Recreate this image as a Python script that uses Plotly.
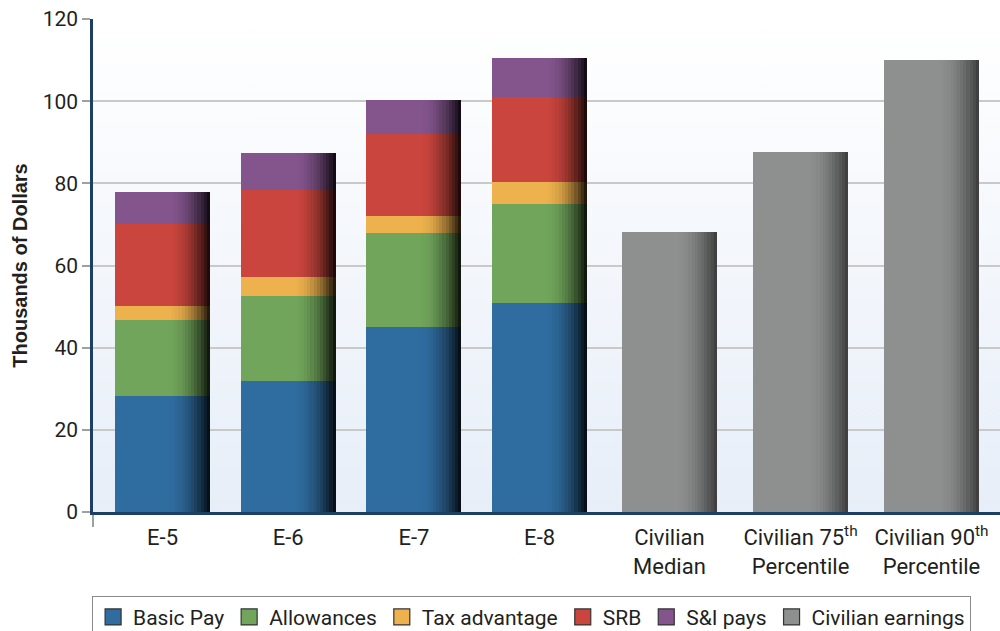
import base64
import plotly.graph_objects as go

# Categories and component values (thousands of dollars)
categories = ["E-5", "E-6", "E-7", "E-8",
              "Civilian<br>Median",
              "Civilian 75<sup>th</sup><br>Percentile",
              "Civilian 90<sup>th</sup><br>Percentile"]

basic_pay = [28.2, 31.9, 45.0, 50.9, None, None, None]
allowances = [18.5, 20.7, 22.9, 24.1, None, None, None]
tax_advantage = [3.4, 4.6, 4.2, 5.3, None, None, None]
srb = [20.0, 21.2, 19.9, 20.7, None, None, None]
si_pays = [7.8, 9.0, 8.3, 9.5, None, None, None]
civilian_earnings = [None, None, None, None, 68.2, 87.6, 110.0]

series = [
    ("Basic Pay", basic_pay, (47, 108, 159), 0.92),
    ("Allowances", allowances, (113, 165, 91), 0.92),
    ("Tax advantage", tax_advantage, (237, 177, 77), 0.92),
    ("SRB", srb, (202, 69, 61), 0.92),
    ("S&I pays", si_pays, (132, 85, 141), 0.92),
    ("Civilian earnings", civilian_earnings, (142, 144, 143), 0.6),
]

# slot positions along the x axis; the civilian group sits a little apart
x_pos = [0, 1, 2, 3, 4.033, 5.076, 6.118]
bar_width = 0.756
n_strips = 30


def shade(rgb, t, depth):
    # flat colour on the left, falling off towards the right edge
    if t <= 0.55:
        f = 1.0
    else:
        f = 1.0 - depth * ((t - 0.55) / 0.45) ** 2
    return "rgb(%d,%d,%d)" % tuple(int(round(c * f)) for c in rgb)


fig = go.Figure()

base = [0.0] * len(categories)
for name, vals, rgb, depth in series:
    ys = [v if v is not None else 0 for v in vals]
    bases = [b if v is not None else 0 for b, v in zip(base, vals)]
    for k in range(n_strips):
        t = (k + 0.5) / n_strips
        fig.add_trace(go.Bar(
            x=x_pos, y=ys, base=bases,
            offset=-bar_width / 2 + k * bar_width / n_strips,
            width=bar_width / n_strips * 1.02,
            marker=dict(color=shade(rgb, t, depth), line=dict(width=0)),
            name=name, legendgroup=name, showlegend=False,
            hoverinfo="skip",
        ))
    # legend entry for the series
    fig.add_trace(go.Scatter(
        x=[None], y=[None], mode="markers", name=name, legendgroup=name,
        marker=dict(symbol="square", size=16, color="rgb(%d,%d,%d)" % rgb,
                    line=dict(color="#333333", width=1.2)),
        showlegend=True,
    ))
    base = [b + (v or 0) for b, v in zip(base, vals)]

# vertical white-to-pale-blue wash behind the plot area
svg = ('<svg xmlns="http://www.w3.org/2000/svg" width="100" height="100" '
       'preserveAspectRatio="none"><defs><linearGradient id="g" x1="0" y1="0" '
       'x2="0" y2="1"><stop offset="0" stop-color="#ffffff"/>'
       '<stop offset="1" stop-color="#e7eef8"/></linearGradient></defs>'
       '<rect width="100" height="100" fill="url(#g)"/></svg>')
bg_src = "data:image/svg+xml;base64," + base64.b64encode(svg.encode()).decode()

fig.add_layout_image(dict(
    source=bg_src, xref="paper", yref="paper", x=0, y=1,
    sizex=1, sizey=1, xanchor="left", yanchor="top",
    sizing="stretch", layer="below",
))

text_color = "#231f20"

fig.update_layout(
    width=1000, height=631,
    margin=dict(l=93, r=0, t=19, b=119, autoexpand=False),
    barmode="overlay",
    bargap=0,
    paper_bgcolor="white",
    plot_bgcolor="rgba(0,0,0,0)",
    showlegend=True,
    legend=dict(
        orientation="h", x=-0.001, xanchor="left", y=-0.170, yanchor="top",
        bordercolor="#8a8a8a", borderwidth=1, bgcolor="white",
        font=dict(family="Roboto, Arial", size=21, color=text_color),
        itemwidth=30, traceorder="normal", tracegroupgap=0,
    ),
    xaxis=dict(
        range=[-0.553, 6.663],
        tickvals=x_pos, ticktext=categories,
        tickfont=dict(family="Roboto, Arial", size=22, color=text_color),
        ticklabelstandoff=4,
        showgrid=False, zeroline=False,
        showline=True, linecolor="#1d3f66", linewidth=2.5,
        ticks="",
        minor=dict(tickvals=[-0.553], ticks="outside", ticklen=12,
                   tickcolor="#a0a0a0", tickwidth=2),
    ),
    yaxis=dict(
        range=[0, 120], tickvals=[0, 20, 40, 60, 80, 100, 120],
        tickfont=dict(family="Roboto, Arial", size=21, color=text_color),
        showgrid=True, gridcolor="#c9c9c9", gridwidth=2,
        zeroline=False,
        showline=True, linecolor="#1d3f66", linewidth=2.5,
        ticks="outside", ticklen=8, tickcolor="#a0a0a0", tickwidth=2,
        title=dict(text="<b>Thousands of Dollars</b>",
                   font=dict(family="Liberation Sans, Arial", size=20,
                             color=text_color),
                   standoff=10),
    ),
)

fig.write_html("out.html")
